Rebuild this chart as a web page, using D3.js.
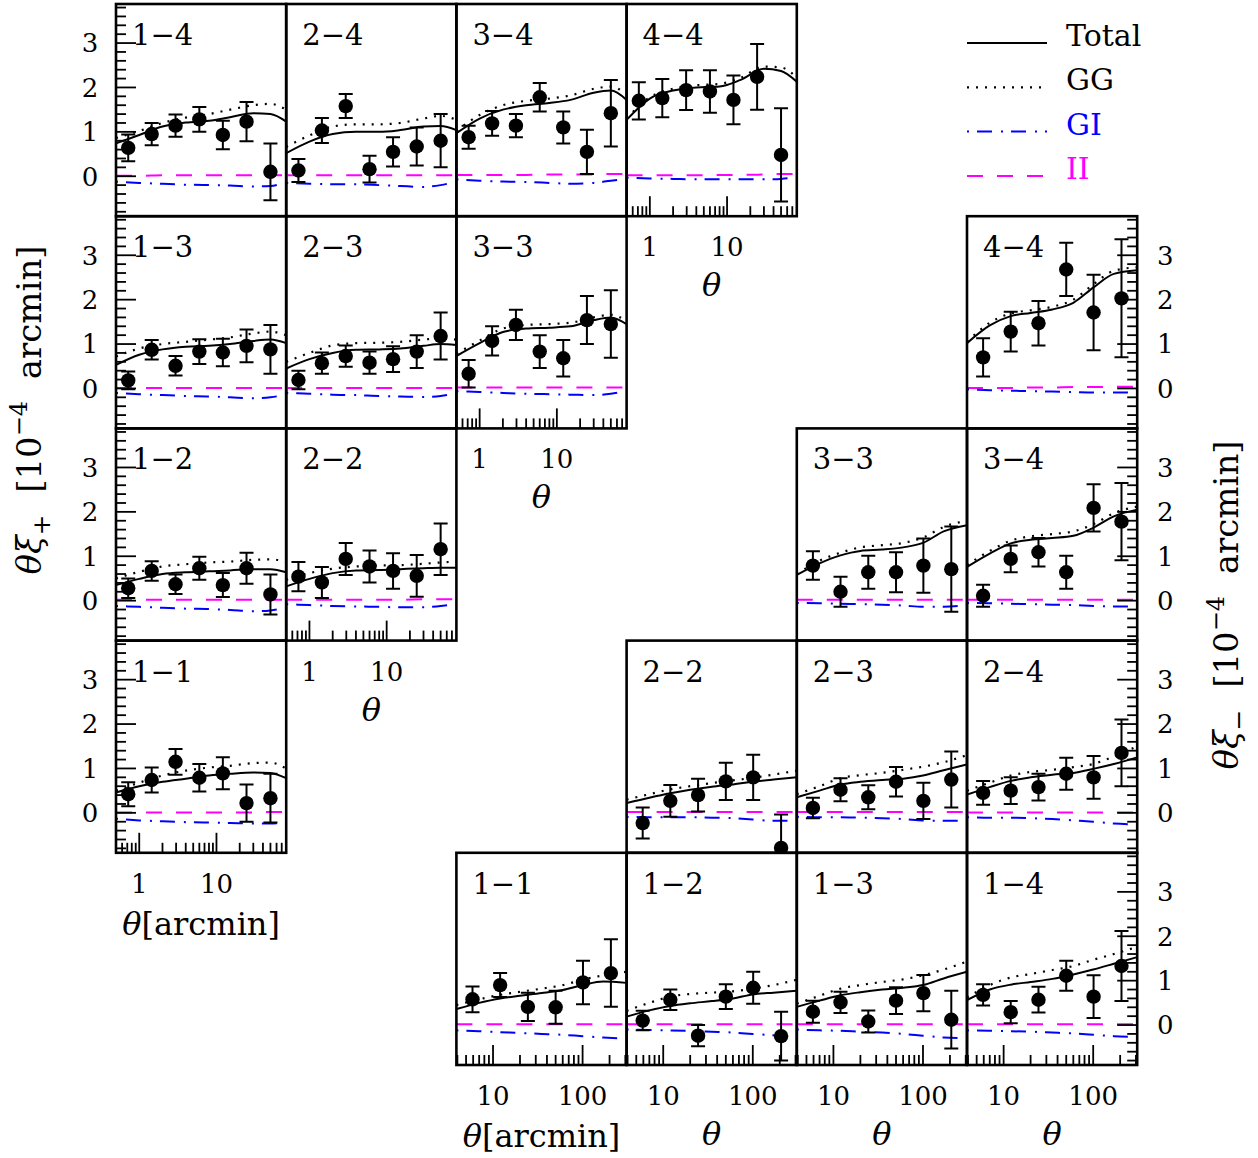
<!DOCTYPE html>
<html><head><meta charset="utf-8">
<script src="https://cdn.jsdelivr.net/npm/d3@7"></script>
<style>
body{margin:0;background:#fff}
svg{display:block}
text{font-family:"DejaVu Serif",serif;white-space:pre}
</style>
</head><body>
<svg id="c" width="1258" height="1158"></svg>
<script>
// ---------- data ----------
const thetaPlus  = [0.72, 1.45, 2.95, 6.0, 12.1, 24.5, 50];
const thetaMinus = [5.9, 12.0, 24.5, 50, 101, 207];
const modelThetaPlus  = [0.5, 1, 2, 4, 8, 15, 30, 50, 80];
const modelThetaMinus = [3.9, 7, 12, 20, 35, 60, 100, 170, 310];
const yTickLabels = [0, 1, 2, 3];
const xMajorPlus = [1, 10];
const xMajorMinus = [10, 100];
const legendNames = ["Total", "GG", "GI", "II"];

// xi+ panels
const P14_val=[0.64,0.95,1.14,1.28,0.93,1.23,0.10], P14_err=[0.3,0.25,0.25,0.28,0.32,0.44,0.64];
const P14_total=[0.74,0.93,1.12,1.21,1.25,1.33,1.42,1.40,1.23], P14_gg=[0.86,1.02,1.2,1.32,1.4,1.5,1.6,1.63,1.5];
const P14_gi=[-0.12,-0.15,-0.17,-0.19,-0.2,-0.21,-0.23,-0.22,-0.13], P14_ii=[0.01,0.01,0.02,0.02,0.02,0.02,0.02,0.02,0.02];

const P24_val=[0.13,1.03,1.58,0.16,0.55,0.67,0.80], P24_err=[0.26,0.28,0.27,0.3,0.33,0.43,0.6];
const P24_total=[0.52,0.78,0.95,1.0,1.0,1.04,1.12,1.13,1.04], P24_gg=[0.66,0.92,1.12,1.17,1.17,1.2,1.3,1.36,1.27];
const P24_gi=[-0.15,-0.17,-0.18,-0.18,-0.2,-0.22,-0.24,-0.2,-0.12], P24_ii=[0.02,0.02,0.02,0.02,0.02,0.02,0.02,0.02,0.02];

const P34_val=[0.88,1.19,1.14,1.78,1.10,0.55,1.42], P34_err=[0.26,0.28,0.26,0.32,0.36,0.5,0.75];
const P34_total=[0.97,1.3,1.5,1.6,1.65,1.72,1.88,1.93,1.72], P34_gg=[1.02,1.38,1.6,1.7,1.75,1.82,1.97,2.02,1.85];
const P34_gi=[-0.07,-0.1,-0.12,-0.13,-0.15,-0.17,-0.15,-0.1,-0.06], P34_ii=[0.03,0.03,0.03,0.03,0.04,0.04,0.04,0.05,0.05];

const P44_val=[1.70,1.76,1.94,1.91,1.72,2.24,0.48], P44_err=[0.42,0.43,0.45,0.48,0.55,0.74,1.05];
const P44_total=[1.27,1.75,1.93,2.0,2.02,2.17,2.42,2.37,2.13], P44_gg=[1.3,1.78,1.97,2.05,2.08,2.22,2.47,2.45,2.22];
const P44_gi=[-0.03,-0.05,-0.06,-0.07,-0.07,-0.07,-0.07,-0.06,-0.02], P44_ii=[0.02,0.02,0.02,0.02,0.03,0.03,0.04,0.05,0.05];

const P13_val=[0.18,0.87,0.51,0.83,0.81,0.96,0.88], P13_err=[0.2,0.22,0.22,0.28,0.31,0.37,0.55];
const P13_total=[0.53,0.76,0.88,0.94,0.96,1.0,1.07,1.1,1.02], P13_gg=[0.72,0.9,1.0,1.05,1.1,1.15,1.24,1.28,1.2];
const P13_gi=[-0.1,-0.13,-0.15,-0.17,-0.18,-0.2,-0.22,-0.2,-0.13], P13_ii=[0.01,0.01,0.01,0.01,0.01,0.01,0.01,0.01,0.01];

const P23_val=[0.19,0.57,0.73,0.58,0.66,0.83,1.18], P23_err=[0.21,0.24,0.24,0.25,0.29,0.37,0.53];
const P23_total=[0.45,0.66,0.8,0.87,0.88,0.9,0.96,1.0,0.98], P23_gg=[0.6,0.8,0.97,1.02,1.03,1.05,1.1,1.13,1.1];
const P23_gi=[-0.1,-0.12,-0.14,-0.15,-0.17,-0.18,-0.19,-0.17,-0.1], P23_ii=[0.01,0.01,0.01,0.01,0.01,0.01,0.01,0.01,0.01];

const P33_val=[0.33,1.07,1.43,0.83,0.68,1.54,1.45], P33_err=[0.31,0.33,0.34,0.37,0.41,0.54,0.76];
const P33_total=[0.73,1.02,1.27,1.35,1.37,1.4,1.54,1.6,1.45], P33_gg=[0.78,1.08,1.35,1.43,1.45,1.48,1.6,1.66,1.52];
const P33_gi=[-0.06,-0.08,-0.1,-0.12,-0.13,-0.14,-0.15,-0.12,-0.06], P33_ii=[0.02,0.02,0.02,0.02,0.02,0.02,0.02,0.02,0.02];

const P12_val=[0.28,0.67,0.37,0.73,0.35,0.73,0.14], P12_err=[0.22,0.22,0.22,0.26,0.27,0.35,0.45];
const P12_total=[0.35,0.49,0.6,0.64,0.66,0.68,0.71,0.71,0.64], P12_gg=[0.5,0.65,0.77,0.82,0.86,0.88,0.92,0.93,0.88];
const P12_gi=[-0.12,-0.14,-0.16,-0.18,-0.19,-0.21,-0.24,-0.22,-0.15], P12_ii=[0.02,0.02,0.02,0.02,0.02,0.02,0.02,0.02,0.02];

const P22_val=[0.54,0.41,0.94,0.77,0.67,0.56,1.16], P22_err=[0.33,0.35,0.36,0.36,0.4,0.47,0.58];
const P22_total=[0.32,0.49,0.62,0.68,0.69,0.71,0.73,0.74,0.74], P22_gg=[0.47,0.62,0.72,0.77,0.79,0.8,0.83,0.86,0.88];
const P22_gi=[-0.08,-0.1,-0.12,-0.13,-0.14,-0.15,-0.15,-0.12,-0.08], P22_ii=[0.02,0.02,0.02,0.02,0.02,0.02,0.03,0.03,0.03];

const P11_val=[0.42,0.74,1.15,0.79,0.89,0.22,0.33], P11_err=[0.27,0.28,0.29,0.31,0.36,0.42,0.55];
const P11_total=[0.46,0.6,0.7,0.77,0.84,0.88,0.91,0.9,0.78], P11_gg=[0.5,0.68,0.84,0.95,1.02,1.06,1.12,1.13,1.0];
const P11_gi=[-0.13,-0.17,-0.19,-0.21,-0.22,-0.23,-0.24,-0.24,-0.22], P11_ii=[0.01,0.01,0.01,0.01,0.01,0.01,0.01,0.02,0.02];

// xi- panels
const M44_val=[0.70,1.28,1.47,2.68,1.71,2.03], M44_err=[0.43,0.45,0.5,0.6,0.85,1.33];
const M44_total=[1.02,1.42,1.63,1.7,1.78,1.93,2.27,2.58,2.66], M44_gg=[1.05,1.48,1.69,1.76,1.84,2.0,2.34,2.65,2.73];
const M44_gi=[-0.02,-0.04,-0.05,-0.06,-0.07,-0.08,-0.09,-0.09,-0.09], M44_ii=[0.01,0.01,0.01,0.02,0.02,0.03,0.03,0.04,0.04];

const M33_val=[0.79,0.20,0.64,0.64,0.79,0.71], M33_err=[0.32,0.34,0.37,0.45,0.61,0.96];
const M33_total=[0.58,0.84,1.02,1.12,1.15,1.2,1.3,1.56,1.7], M33_gg=[0.6,0.9,1.08,1.2,1.25,1.3,1.42,1.66,1.8];
const M33_gi=[-0.05,-0.06,-0.07,-0.08,-0.09,-0.11,-0.14,-0.14,-0.1], M33_ii=[0.02,0.02,0.02,0.02,0.02,0.02,0.02,0.02,0.02];

const M34_val=[0.11,0.94,1.09,0.64,2.09,1.78], M34_err=[0.25,0.3,0.32,0.37,0.53,0.87];
const M34_total=[0.76,1.06,1.29,1.37,1.41,1.46,1.64,1.9,2.05], M34_gg=[0.8,1.12,1.35,1.45,1.5,1.56,1.72,1.97,2.12];
const M34_gi=[-0.05,-0.06,-0.07,-0.08,-0.09,-0.1,-0.12,-0.13,-0.13], M34_ii=[0.02,0.02,0.02,0.02,0.02,0.02,0.02,0.02,0.02];

const M22_val=[-0.23,0.27,0.40,0.71,0.80,-0.79], M22_err=[0.35,0.36,0.37,0.42,0.51,0.75];
const M22_total=[0.22,0.34,0.44,0.52,0.59,0.64,0.7,0.75,0.8], M22_gg=[0.3,0.42,0.53,0.6,0.67,0.73,0.79,0.86,0.95];
const M22_gi=[-0.09,-0.1,-0.1,-0.1,-0.11,-0.12,-0.15,-0.18,-0.18], M22_ii=[0.02,0.02,0.02,0.02,0.02,0.02,0.02,0.02,0.02];

const M23_val=[0.11,0.52,0.35,0.70,0.27,0.75], M23_err=[0.23,0.26,0.27,0.33,0.41,0.63];
const M23_total=[0.35,0.5,0.64,0.7,0.74,0.77,0.84,0.96,1.09], M23_gg=[0.42,0.6,0.78,0.85,0.9,0.97,1.04,1.14,1.3];
const M23_gi=[-0.09,-0.1,-0.1,-0.11,-0.12,-0.14,-0.17,-0.18,-0.18], M23_ii=[0.02,0.02,0.02,0.02,0.02,0.02,0.02,0.02,0.02];

const M24_val=[0.45,0.50,0.58,0.88,0.80,1.35], M24_err=[0.27,0.3,0.3,0.36,0.48,0.75];
const M24_total=[0.41,0.58,0.72,0.8,0.86,0.9,0.99,1.1,1.25], M24_gg=[0.5,0.68,0.84,0.92,0.97,1.03,1.1,1.27,1.5];
const M24_gi=[-0.1,-0.11,-0.11,-0.12,-0.14,-0.17,-0.2,-0.24,-0.26], M24_ii=[0.01,0.01,0.01,0.01,0.01,0.01,0.01,0.01,0.01];

const M11_val=[0.58,0.90,0.41,0.40,0.96,1.17], M11_err=[0.29,0.27,0.32,0.37,0.49,0.76];
const M11_total=[0.36,0.5,0.6,0.66,0.72,0.79,0.9,0.98,0.95], M11_gg=[0.45,0.58,0.68,0.75,0.82,0.9,1.02,1.12,1.2];
const M11_gi=[-0.12,-0.14,-0.16,-0.18,-0.2,-0.22,-0.25,-0.28,-0.31], M11_ii=[0.02,0.02,0.02,0.02,0.02,0.02,0.02,0.02,0.02];

const M12_val=[0.10,0.57,-0.24,0.64,0.84,-0.25], M12_err=[0.22,0.23,0.24,0.28,0.36,0.55];
const M12_total=[0.19,0.33,0.43,0.49,0.54,0.6,0.69,0.73,0.77], M12_gg=[0.32,0.5,0.64,0.7,0.73,0.76,0.82,0.9,1.02];
const M12_gi=[-0.1,-0.11,-0.12,-0.13,-0.15,-0.17,-0.2,-0.23,-0.26], M12_ii=[0.02,0.02,0.02,0.02,0.02,0.02,0.02,0.02,0.02];

const M13_val=[0.30,0.51,0.08,0.55,0.72,0.12], M13_err=[0.25,0.24,0.25,0.3,0.41,0.65];
const M13_total=[0.41,0.55,0.67,0.74,0.8,0.84,0.9,1.05,1.2], M13_gg=[0.48,0.66,0.82,0.9,0.97,1.03,1.12,1.25,1.43];
const M13_gi=[-0.1,-0.12,-0.13,-0.15,-0.17,-0.2,-0.24,-0.28,-0.3], M13_ii=[0.02,0.02,0.02,0.02,0.02,0.02,0.02,0.02,0.02];

const M14_val=[0.68,0.29,0.57,1.11,0.64,1.33], M14_err=[0.24,0.25,0.29,0.34,0.48,0.79];
const M14_total=[0.56,0.8,0.91,0.97,1.04,1.14,1.25,1.38,1.53], M14_gg=[0.62,0.9,1.07,1.15,1.24,1.33,1.47,1.6,1.76];
const M14_gi=[-0.12,-0.13,-0.14,-0.15,-0.17,-0.19,-0.22,-0.25,-0.27], M14_ii=[0.02,0.02,0.02,0.02,0.02,0.02,0.02,0.02,0.02];

// ---------- layout ----------
const X0=116, W=170.2, Y0=4, H=212.2;
const ys = d3.scaleLinear().domain([-0.9,3.88]).range([H,0]);
const xsP = d3.scaleLog().domain([0.5,80]).range([0,W]);
const xsM = d3.scaleLog().domain([3.9,310]).range([0,W]);

function mk(type,label,k,row,val,err,total,gg,gi,ii,opts){
  return Object.assign({type,label,k,row,val,err,total,gg,gi,ii},opts||{});
}
const panels = [
  mk('P','1−4',0,0,P14_val,P14_err,P14_total,P14_gg,P14_gi,P14_ii,{left:true}),
  mk('P','2−4',1,0,P24_val,P24_err,P24_total,P24_gg,P24_gi,P24_ii),
  mk('P','3−4',2,0,P34_val,P34_err,P34_total,P34_gg,P34_gi,P34_ii),
  mk('P','4−4',3,0,P44_val,P44_err,P44_total,P44_gg,P44_gi,P44_ii,{bottom:true}),
  mk('P','1−3',0,1,P13_val,P13_err,P13_total,P13_gg,P13_gi,P13_ii,{left:true}),
  mk('P','2−3',1,1,P23_val,P23_err,P23_total,P23_gg,P23_gi,P23_ii),
  mk('P','3−3',2,1,P33_val,P33_err,P33_total,P33_gg,P33_gi,P33_ii,{bottom:true}),
  mk('P','1−2',0,2,P12_val,P12_err,P12_total,P12_gg,P12_gi,P12_ii,{left:true}),
  mk('P','2−2',1,2,P22_val,P22_err,P22_total,P22_gg,P22_gi,P22_ii,{bottom:true}),
  mk('P','1−1',0,3,P11_val,P11_err,P11_total,P11_gg,P11_gi,P11_ii,{left:true,bottom:true,unit:true}),
  mk('M','4−4',5,1,M44_val,M44_err,M44_total,M44_gg,M44_gi,M44_ii,{right:true}),
  mk('M','3−3',4,2,M33_val,M33_err,M33_total,M33_gg,M33_gi,M33_ii),
  mk('M','3−4',5,2,M34_val,M34_err,M34_total,M34_gg,M34_gi,M34_ii,{right:true}),
  mk('M','2−2',3,3,M22_val,M22_err,M22_total,M22_gg,M22_gi,M22_ii),
  mk('M','2−3',4,3,M23_val,M23_err,M23_total,M23_gg,M23_gi,M23_ii),
  mk('M','2−4',5,3,M24_val,M24_err,M24_total,M24_gg,M24_gi,M24_ii,{right:true}),
  mk('M','1−1',2,4,M11_val,M11_err,M11_total,M11_gg,M11_gi,M11_ii,{bottom:true,unit:true}),
  mk('M','1−2',3,4,M12_val,M12_err,M12_total,M12_gg,M12_gi,M12_ii,{bottom:true}),
  mk('M','1−3',4,4,M13_val,M13_err,M13_total,M13_gg,M13_gi,M13_ii,{bottom:true}),
  mk('M','1−4',5,4,M14_val,M14_err,M14_total,M14_gg,M14_gi,M14_ii,{bottom:true,right:true}),
];

const styles = {
  total:{stroke:'#000',dash:null,w:2},
  gg:{stroke:'#000',dash:'2,7',w:2.2},
  gi:{stroke:'#0000ff',dash:'2,8,15,9',w:2},
  ii:{stroke:'#ff00ff',dash:'16,14',w:2}
};

const svg = d3.select('#c');
const defs = svg.append('defs');

const yMinor = d3.range(-4,20).map(i=>i/5);

panels.forEach((p,i)=>{
  const gx = X0 + p.k*W, gy = Y0 + p.row*H;
  const g = svg.append('g').attr('transform',`translate(${gx},${gy})`);
  const xs = p.type==='P'?xsP:xsM;
  const th = p.type==='P'?thetaPlus:thetaMinus;
  const mth = p.type==='P'?modelThetaPlus:modelThetaMinus;
  defs.append('clipPath').attr('id','cp'+i).append('rect').attr('width',W).attr('height',H);
  const cg = g.append('g').attr('clip-path',`url(#cp${i})`);
  const line = d3.line().x((d,j)=>xs(mth[j])).y(d=>ys(d)).curve(d3.curveMonotoneX);
  ['ii','gi','gg','total'].forEach(key=>{
    const s = styles[key];
    cg.append('path').datum(p[key]).attr('d',line).attr('fill','none')
      .attr('stroke',s.stroke).attr('stroke-width',s.w)
      .attr('stroke-dasharray',s.dash);
  });
  // error bars
  p.val.forEach((v,j)=>{
    const x = xs(th[j]), e = p.err[j];
    const y1 = ys(v+e), y2 = ys(v-e);
    cg.append('line').attr('x1',x).attr('x2',x).attr('y1',y1).attr('y2',y2).attr('stroke','#000').attr('stroke-width',2);
    [y1,y2].forEach(yy=>cg.append('line').attr('x1',x-7).attr('x2',x+7).attr('y1',yy).attr('y2',yy).attr('stroke','#000').attr('stroke-width',2));
    cg.append('circle').attr('cx',x).attr('cy',ys(v)).attr('r',7.2).attr('fill','#000');
  });
  // frame
  g.append('rect').attr('width',W).attr('height',H).attr('fill','none').attr('stroke','#000').attr('stroke-width',2.6);
  // label
  g.append('text').attr('x',16).attr('y',41).attr('font-size',29).text(p.label);
  // y ticks
  if(p.left || p.right){
    yMinor.forEach(v=>{
      const major = Math.abs(v-Math.round(v))<1e-6;
      const L = major?20:10;
      const y = ys(v);
      if(p.left) g.append('line').attr('x1',0).attr('x2',L).attr('y1',y).attr('y2',y).attr('stroke','#000').attr('stroke-width',1.8);
      if(p.right) g.append('line').attr('x1',W).attr('x2',W-L).attr('y1',y).attr('y2',y).attr('stroke','#000').attr('stroke-width',1.8);
    });
    yTickLabels.forEach(v=>{
      g.append('text').attr('x',p.left?-26:W+28).attr('y',ys(v)).attr('dy','0.36em')
        .attr('text-anchor','middle').attr('font-size',26).text(v);
    });
  }
  // x ticks
  if(p.bottom){
    const [a,b] = xs.domain();
    const ticks = [];
    for(let dec=Math.pow(10,Math.floor(Math.log10(a))); dec<b; dec*=10){
      for(let m=1;m<10;m++){ const t=m*dec; if(t>a*1.001 && t<b*0.999) ticks.push({t,major:m===1}); }
    }
    ticks.forEach(o=>{
      const x = xs(o.t);
      g.append('line').attr('x1',x).attr('x2',x).attr('y1',H).attr('y2',H-(o.major?20:10)).attr('stroke','#000').attr('stroke-width',1.8);
    });
    const majors = p.type==='P'?xMajorPlus:xMajorMinus;
    majors.forEach(t=>{
      g.append('text').attr('x',xs(t)).attr('y',H+40).attr('text-anchor','middle').attr('font-size',26).text(t);
    });
    const lab = g.append('text').attr('x',W/2).attr('y',H+(p.unit?82:80)).attr('text-anchor','middle').attr('font-size',32);
    lab.append('tspan').attr('font-style','italic').text('θ');
    if(p.unit) lab.append('tspan').text('[arcmin]');
  }
});

// legend
const legKeys = ['total','gg','gi','ii'];
const legColors = ['#000','#000','#0000ff','#ff00ff'];
legKeys.forEach((key,i)=>{
  const y = 43 + i*44.3;
  const s = styles[key];
  svg.append('line').attr('x1',967).attr('x2',1047).attr('y1',y).attr('y2',y)
    .attr('stroke',s.stroke).attr('stroke-width',s.w).attr('stroke-dasharray',s.dash);
  svg.append('text').attr('x',1066).attr('y',y+3).attr('font-size',30).attr('fill',legColors[i]).text(legendNames[i]);
});

// axis titles
function axisTitle(x,y,sub){
  const t = svg.append('text').attr('transform',`translate(${x},${y}) rotate(-90)`)
    .attr('text-anchor','middle').attr('font-size',34);
  t.append('tspan').attr('font-style','italic').text('θξ');
  t.append('tspan').attr('dy',9).attr('font-size',25).text(sub);
  t.append('tspan').attr('dy',-9).text('  [10');
  t.append('tspan').attr('dy',-14).attr('font-size',24).text('−4');
  t.append('tspan').attr('dy',14).text('  arcmin]');
}
axisTitle(41,410,'+');
axisTitle(1238,605,'−');
</script>
</body></html>
